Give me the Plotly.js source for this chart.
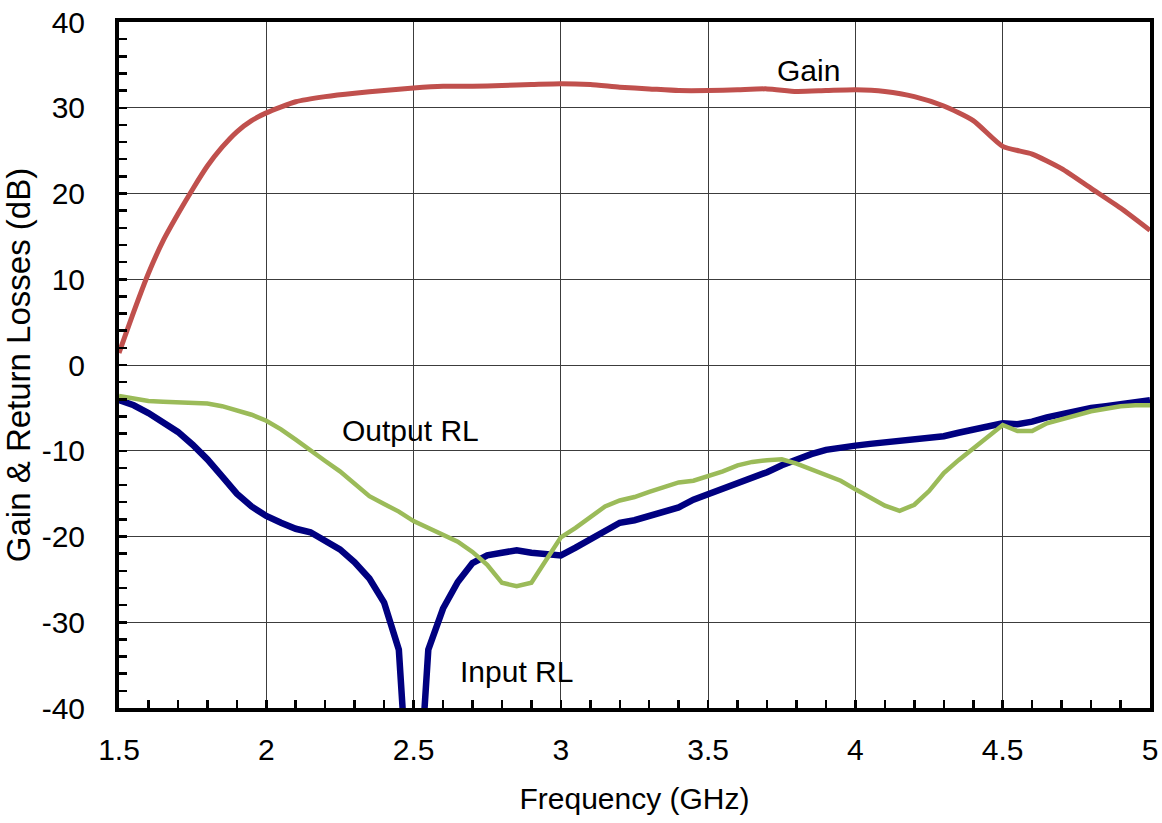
<!DOCTYPE html>
<html>
<head>
<meta charset="utf-8">
<script src="https://cdn.plot.ly/plotly-3.0.1.min.js"></script>
<style>html,body{margin:0;padding:0;background:#fff;}#chart{width:1162px;height:823px;}</style>
</head>
<body>
<div id="chart"></div>
<script>
// Gain (dB) vs frequency (GHz)
const gainFreq = [1.5,1.55,1.6,1.65,1.7,1.75,1.8,1.85,1.9,1.95,2.0,2.1,2.2,2.3,2.4,2.5,2.6,2.7,2.8,2.9,3.0,3.1,3.2,3.3,3.4,3.5,3.6,3.7,3.8,3.9,4.0,4.1,4.2,4.3,4.4,4.5,4.6,4.7,4.8,4.9,5.0];
const gainDb = [1.4,6.2,10.7,14.5,17.6,20.5,23.2,25.4,27.2,28.5,29.4,30.7,31.3,31.7,32.0,32.3,32.5,32.5,32.6,32.7,32.8,32.7,32.4,32.2,32.0,32.0,32.1,32.2,31.9,32.0,32.1,31.9,31.3,30.2,28.5,25.5,24.6,22.9,20.6,18.3,15.7];

// Return losses (dB), 0.05 GHz steps
const rlFreq = [1.5,1.55,1.6,1.65,1.7,1.75,1.8,1.85,1.9,1.95,2.0,2.05,2.1,2.15,2.2,2.25,2.3,2.35,2.4,2.45,2.5,2.55,2.6,2.65,2.7,2.75,2.8,2.85,2.9,2.95,3.0,3.05,3.1,3.15,3.2,3.25,3.3,3.35,3.4,3.45,3.5,3.55,3.6,3.65,3.7,3.75,3.8,3.85,3.9,3.95,4.0,4.05,4.1,4.15,4.2,4.25,4.3,4.35,4.4,4.45,4.5,4.55,4.6,4.65,4.7,4.75,4.8,4.85,4.9,4.95,5.0];
const inputRL = [-4.1,-4.7,-5.6,-6.6,-7.8,-9.3,-11.0,-13.0,-15.0,-16.5,-17.6,-18.4,-19.1,-19.5,-20.4,-21.5,-23.0,-24.9,-27.7,-33.2,-60,-33.2,-28.4,-25.3,-23.1,-22.2,-21.9,-21.6,-21.9,-22.0,-22.2,-21.3,-20.3,-19.3,-18.4,-18.1,-17.6,-17.1,-16.6,-15.7,-15.1,-14.5,-13.9,-13.3,-12.5,-11.7,-11.0,-10.4,-9.9,-9.6,-9.4,-9.2,-9.0,-8.9,-8.7,-8.5,-8.3,-7.9,-7.5,-7.1,-6.8,-6.9,-6.6,-6.1,-5.7,-5.3,-5.0,-4.8,-4.6,-4.4,-4.1];
const outputRL = [-3.6,-3.9,-4.2,-4.3,-4.4,-4.5,-4.5,-4.8,-5.3,-5.8,-6.5,-7.5,-8.7,-10.0,-11.2,-12.4,-13.8,-15.3,-16.2,-17.1,-18.2,-19.0,-19.7,-20.6,-21.8,-23.3,-25.4,-25.8,-25.4,-22.7,-20.1,-19.0,-17.7,-16.5,-15.8,-15.4,-14.8,-14.2,-13.7,-13.5,-13.0,-12.4,-11.7,-11.3,-11.1,-11.0,-11.5,-12.2,-12.8,-13.5,-14.5,-15.5,-16.4,-17.0,-16.3,-14.7,-12.6,-11.1,-9.7,-8.3,-7.0,-7.7,-7.7,-6.8,-6.3,-5.8,-5.4,-5.1,-4.8,-4.7,-4.7];

// Tick labels
const yTickVals = [40,30,20,10,0,-10,-20,-30,-40];
const yTickText = ["40","30","20","10","0","-10","-20","-30","-40"];
const xTickVals = [1.5,2,2.5,3,3.5,4,4.5,5];
const xTickText = ["1.5","2","2.5","3","3.5","4","4.5","5"];

// Series labels
const seriesLabels = [
  {text: "Gain", x: 3.84, y: 34.4},
  {text: "Output RL", x: 2.49, y: -7.6},
  {text: "Input RL", x: 2.85, y: -35.8}
];

const FONT = "'Liberation Sans', Arial, Helvetica, sans-serif";

const traces = [
  {x: gainFreq, y: gainDb, mode: "lines", name: "Gain",
   line: {color: "#C0504D", width: 5, shape: "spline", smoothing: 0.6}},
  {x: rlFreq, y: inputRL, mode: "lines", name: "Input RL",
   line: {color: "#000080", width: 6.5}},
  {x: rlFreq, y: outputRL, mode: "lines", name: "Output RL",
   line: {color: "#9BBB59", width: 4.5}}
];

const layout = {
  width: 1162, height: 823,
  margin: {l: 119, r: 12, t: 22, b: 115},
  paper_bgcolor: "#ffffff", plot_bgcolor: "#ffffff",
  showlegend: false,
  font: {family: FONT, size: 30, color: "#000"},
  xaxis: {
    range: [1.5, 5], tickmode: "array", tickvals: xTickVals, ticktext: xTickText,
    showgrid: true, gridcolor: "#3c3c3c", gridwidth: 1, zeroline: false,
    showline: true, linecolor: "#000", linewidth: 4, mirror: true,
    ticks: "inside", ticklen: 8, tickwidth: 2.5, tickcolor: "#000",
    minor: {dtick: 0.1, ticks: "inside", ticklen: 8, tickwidth: 2.5, tickcolor: "#000", showgrid: false},
    ticklabelstandoff: 12,
    tickfont: {family: FONT, size: 30, color: "#000"},
    title: {text: "Frequency (GHz)", font: {family: FONT, size: 30, color: "#000"}, standoff: 24}
  },
  yaxis: {
    range: [-40, 40], tickmode: "array", tickvals: yTickVals, ticktext: yTickText,
    showgrid: true, gridcolor: "#3c3c3c", gridwidth: 1, zeroline: false,
    showline: true, linecolor: "#000", linewidth: 4, mirror: true,
    ticks: "inside", ticklen: 8, tickwidth: 2.5, tickcolor: "#000",
    minor: {dtick: 2, ticks: "inside", ticklen: 8, tickwidth: 2.5, tickcolor: "#000", showgrid: false},
    ticklabelstandoff: 24,
    tickfont: {family: FONT, size: 30, color: "#000"},
    title: {text: "Gain & Return Losses (dB)", font: {family: FONT, size: 33, color: "#000"}, standoff: 10}
  },
  annotations: seriesLabels.map(s => ({
    x: s.x, y: s.y, xref: "x", yref: "y", text: s.text, showarrow: false,
    font: {family: FONT, size: 30, color: "#000"}
  }))
};

Plotly.newPlot("chart", traces, layout, {displayModeBar: false, staticPlot: true});
</script>
</body>
</html>
